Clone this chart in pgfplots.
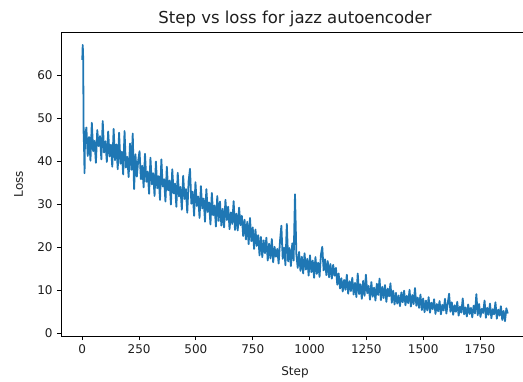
\documentclass[border=0pt]{standalone}
\usepackage{pgfplots}
\pgfplotsset{compat=1.18}
\usepackage{fontspec}
\setmainfont{DejaVu Sans}
\definecolor{mplblue}{RGB}{31,119,180}
\definecolor{txt}{RGB}{30,30,30}
\begin{document}
\begin{tikzpicture}
\begin{axis}[
  at={(0,0)}, anchor=south west,
  width=468pt, height=304pt, scale only axis,
  xmin=-93.6, xmax=1965.6,
  ymin=-0.63, ymax=70.0,
  xtick={0,250,...,1750},
  ytick={0,10,...,60},
  xtick pos=bottom, ytick pos=left,
  tick align=outside,
  major tick length=4.2pt,
  every tick/.style={black, line width=0.96pt},
  axis line style={black, line width=0.96pt},
  /pgf/number format/assume math mode=true,
  /pgf/number format/set thousands separator={},
  ticklabel style={font=\fontsize{12}{14}\selectfont, text=txt},
  xticklabel style={inner sep=0pt, anchor=north, yshift=-4pt},
  yticklabel style={inner sep=0pt, anchor=east, xshift=-4pt},
  every axis x label/.style={at={(axis description cs:0.5,0)}, yshift=-36pt, anchor=center, font=\fontsize{12}{14}\selectfont, text=txt},
  every axis y label/.style={at={(axis description cs:0,0.5)}, xshift=-42.5pt, rotate=90, anchor=center, font=\fontsize{12}{14}\selectfont, text=txt},
  every axis title/.style={at={(axis description cs:0.5,1)}, yshift=13.5pt, anchor=center, font=\fontsize{16.5}{18}\selectfont, text=txt},
  title={Step vs loss for jazz autoencoder},
  xlabel={Step}, ylabel={Loss},
  clip=false,
]
\addplot[mplblue, line width=1.8pt, line join=round] coordinates {
(0,63.5)(2,67.0)(4,64.0)(6,46.5)(8,43.0)(10,37.2)(12,45.5)
(18,47.8)(24,41.2)(30,45.6)(36,40.1)(42,48.9)(48,42.3)(54,44.7)(60,39.6)(66,47.2)(72,43.5)(78,45.8)(84,40.4)(90,49.3)(96,42.0)
(102,44.6)(108,39.8)(114,46.9)(120,41.1)(126,43.8)(132,38.7)(138,47.5)(144,40.2)
(150,43.9)(156,38.1)(162,46.6)(168,39.4)(174,42.2)(180,36.9)(186,47.0)(192,38.5)(198,41.0)(204,36.3)(210,44.1)(216,38.0)(222,46.4)(228,33.5)(234,41.6)(240,36.4)(246,40.1)
(252,42.3)(258,35.8)(264,38.9)(270,33.9)(276,41.7)(282,35.2)(288,37.6)(294,32.4)(300,40.8)(306,34.6)(312,37.2)(318,31.9)(324,39.9)(330,33.7)(336,36.5)(342,31.0)(348,40.4)(354,34.1)(360,35.8)(366,30.6)(372,38.7)(378,33.2)(384,35.5)(390,29.9)(396,38.1)
(402,32.5)(408,34.8)(414,29.4)(420,37.3)(426,31.8)(432,34.0)(438,28.7)(444,36.6)(450,31.2)(456,33.5)(462,28.0)(468,35.4)(474,38.2)(480,30.1)(486,32.9)(492,27.3)(498,35.1)
(504,29.6)(510,31.8)(516,26.8)(522,34.2)(528,29.0)(534,31.3)(540,25.9)(546,33.5)(552,28.2)(558,30.4)(564,25.3)(570,32.6)(576,27.4)(582,29.7)(588,24.8)(594,31.9)
(600,26.1)(606,30.6)(612,25.0)(618,28.9)(624,24.6)(630,31.0)(636,26.3)(642,29.4)(648,24.2)(654,28.1)(660,25.4)(666,30.7)(672,24.0)(678,27.8)(684,23.9)(690,29.2)(696,25.1)
(702,27.3)(708,22.6)(714,26.4)(720,21.8)(726,25.9)(732,20.7)(738,26.8)(744,21.4)(750,24.6)(756,19.6)(762,24.1)(768,20.3)(774,22.8)(780,18.1)(786,22.4)(792,17.7)(798,21.6)
(804,18.6)(810,22.2)(816,16.9)(822,20.8)(828,17.4)(834,21.9)(840,16.5)(846,20.1)(852,17.8)(858,19.6)(864,16.2)(870,21.4)(876,25.0)(882,17.3)(888,19.9)(894,15.8)
(900,25.4)(906,16.7)(912,19.8)(918,15.6)(924,20.9)(930,16.9)(936,32.3)(942,18.4)(948,15.2)(954,18.9)(960,14.5)(966,17.8)(972,13.9)(978,18.6)(984,14.8)(990,17.3)(996,13.4)
(1002,18.1)(1008,14.2)(1014,16.9)(1020,12.9)(1026,17.7)(1032,13.8)(1038,16.4)(1044,13.1)(1050,18.2)(1056,20.1)(1062,14.6)(1068,17.2)(1074,13.5)(1080,16.8)(1086,13.0)(1092,16.1)(1098,12.7)
(1104,15.9)(1110,13.4)(1116,15.2)(1122,11.3)(1128,13.9)(1134,10.4)(1140,12.8)(1146,9.7)(1152,12.4)(1158,10.1)(1164,13.6)(1170,9.2)(1176,12.1)(1182,9.8)(1188,12.9)(1194,9.0)(1200,11.7)
(1206,8.4)(1212,13.9)(1218,9.1)(1224,11.4)(1230,8.0)(1236,12.2)(1242,8.7)(1248,13.6)(1254,9.3)(1260,11.0)(1266,7.8)(1272,11.9)(1278,8.5)(1284,10.6)(1290,7.6)(1296,11.5)
(1302,8.9)(1308,12.7)(1314,7.7)(1320,10.8)(1326,8.2)(1332,11.2)(1338,7.3)(1344,10.4)(1350,8.6)(1356,11.6)(1362,7.1)(1368,9.9)(1374,6.7)(1380,9.4)(1386,6.9)(1392,8.8)(1398,6.3)
(1404,9.5)(1410,7.2)(1416,9.9)(1422,6.5)(1428,8.7)(1434,7.0)(1440,10.1)(1446,6.2)(1452,8.9)(1458,6.8)(1464,10.5)(1470,6.4)(1476,8.3)(1482,5.9)(1488,9.0)(1494,5.4)(1500,8.1)
(1506,4.9)(1512,7.6)(1518,5.3)(1524,8.4)(1530,4.8)(1536,7.1)(1542,5.6)(1548,7.9)(1554,4.5)(1560,6.8)(1566,5.1)(1572,7.5)(1578,4.4)(1584,6.6)(1590,5.3)(1596,8.0)
(1602,4.6)(1608,6.9)(1614,9.2)(1620,5.0)(1626,7.2)(1632,4.3)(1638,6.5)(1644,5.0)(1650,7.3)(1656,4.1)(1662,6.2)(1668,4.8)(1674,8.1)(1680,4.4)(1686,6.0)(1692,3.9)(1698,6.7)
(1704,4.5)(1710,5.9)(1716,3.7)(1722,6.4)(1728,4.6)(1734,9.1)(1740,4.2)(1746,6.8)(1752,3.8)(1758,5.7)(1764,4.7)(1770,7.6)(1776,3.6)(1782,5.9)(1788,4.3)(1794,6.9)
(1800,3.5)(1806,5.6)(1812,4.4)(1818,7.2)(1824,3.4)(1830,5.5)(1836,4.1)(1842,6.3)(1848,3.1)(1854,5.2)(1860,2.8)(1866,5.8)(1872,4.6)
};
\end{axis}
\pgfresetboundingbox
\useasboundingbox (-61pt,-46pt) rectangle (462pt,336pt);
\end{tikzpicture}
\end{document}
